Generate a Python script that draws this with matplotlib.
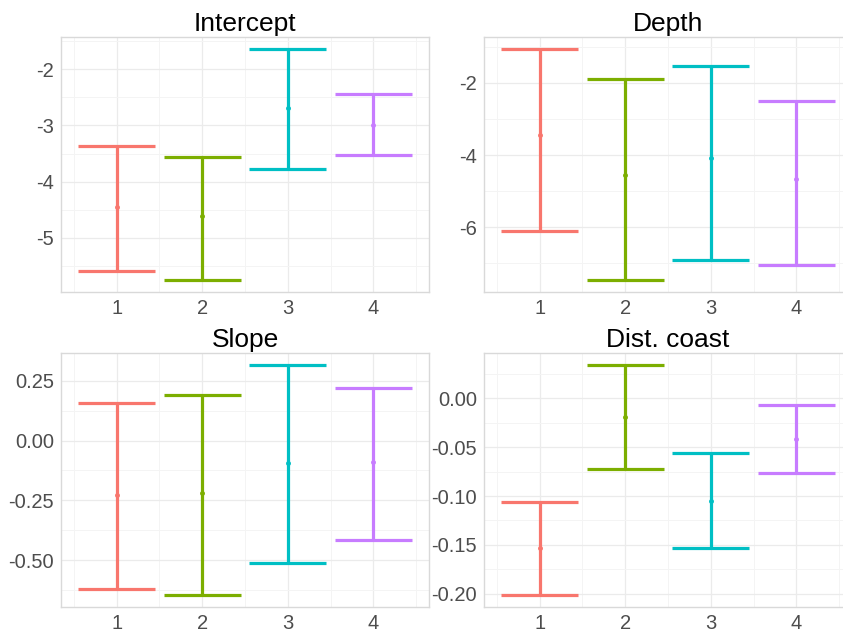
import matplotlib
matplotlib.use("Agg")
import matplotlib.pyplot as plt
import numpy as np
from matplotlib.ticker import FixedLocator

plt.rcParams['font.family'] = ['Liberation Sans', 'DejaVu Sans']

groups = [1, 2, 3, 4]
colors = ["#F8766D", "#7CAE00", "#00BFC4", "#C77CFF"]

titles = ["Intercept", "Depth", "Slope", "Dist. coast"]

# lower, mean, upper per group
intercept_lo = [-5.59, -5.76, -3.77, -3.52]
intercept_mid = [-4.45, -4.61, -2.69, -3.00]
intercept_hi = [-3.36, -3.56, -1.63, -2.44]

depth_lo = [-6.09, -7.47, -6.90, -7.03]
depth_mid = [-3.44, -4.55, -4.07, -4.66]
depth_hi = [-1.05, -1.90, -1.52, -2.50]

slope_lo = [-0.620, -0.648, -0.514, -0.415]
slope_mid = [-0.226, -0.221, -0.094, -0.090]
slope_hi = [0.159, 0.190, 0.318, 0.220]

coast_lo = [-0.2017, -0.0724, -0.1536, -0.0768]
coast_mid = [-0.1536, -0.019, -0.1046, -0.0416]
coast_hi = [-0.106, 0.0345, -0.0558, -0.0071]

yticks = [
    [-5, -4, -3, -2],
    [-6, -4, -2],
    [-0.50, -0.25, 0.00, 0.25],
    [-0.20, -0.15, -0.10, -0.05, 0.00],
]
ylabels = [
    ["-5", "-4", "-3", "-2"],
    ["-6", "-4", "-2"],
    ["-0.50", "-0.25", "0.00", "0.25"],
    ["-0.20", "-0.15", "-0.10", "-0.05", "0.00"],
]

panels = [
    (intercept_lo, intercept_mid, intercept_hi),
    (depth_lo, depth_mid, depth_hi),
    (slope_lo, slope_mid, slope_hi),
    (coast_lo, coast_mid, coast_hi),
]

W, H = 843, 633
fig = plt.figure(figsize=(W / 100, H / 100), dpi=100)

# axes boxes in pixels: left, top, right, bottom
boxes = [
    (61, 37, 429, 292),
    (484, 37, 852, 292),
    (61, 353, 429, 607),
    (484, 353, 852, 607),
]

for i, (lo, mid, hi) in enumerate(panels):
    l, t, r, b = boxes[i]
    ax = fig.add_axes([l / W, (H - b) / H, (r - l) / W, (b - t) / H])
    lo = np.array(lo); mid = np.array(mid); hi = np.array(hi)

    for g, c, a, m, z in zip(groups, colors, lo, mid, hi):
        ax.vlines(g, a, z, color=c, lw=2.3, zorder=3)
        ax.hlines([a, z], g - 0.45, g + 0.45, color=c, lw=2.3, zorder=3)
        ax.plot(g, m, 'o', color=c, ms=2.5, zorder=4)

    span = hi.max() - lo.min()
    ax.set_ylim(lo.min() - 0.05 * span, hi.max() + 0.05 * span)
    ax.set_xlim(0.35, 4.65)

    ax.set_xticks(groups)
    ax.set_xticklabels([str(g) for g in groups])
    ax.set_yticks(yticks[i])
    ax.set_yticklabels(ylabels[i])
    ax.xaxis.set_minor_locator(FixedLocator([0.5, 1.5, 2.5, 3.5, 4.5]))
    step = yticks[i][1] - yticks[i][0]
    ymin_t = [v + step / 2 for v in [yticks[i][0] - step] + yticks[i]]
    ax.yaxis.set_minor_locator(FixedLocator(ymin_t))

    ax.grid(which='major', color='#EBEBEB', lw=0.9, zorder=0)
    ax.grid(which='minor', color='#F4F4F4', lw=0.7, zorder=0)
    ax.set_axisbelow(True)

    ax.tick_params(which='both', length=0, labelsize=14.5, labelcolor='#4D4D4D', pad=5)
    for s in ax.spines.values():
        s.set_color('#D9D9D9')
        s.set_linewidth(1.0)

    ax.set_title(titles[i], fontsize=19, color='black', pad=4)

fig.savefig("out.png", dpi=100)
